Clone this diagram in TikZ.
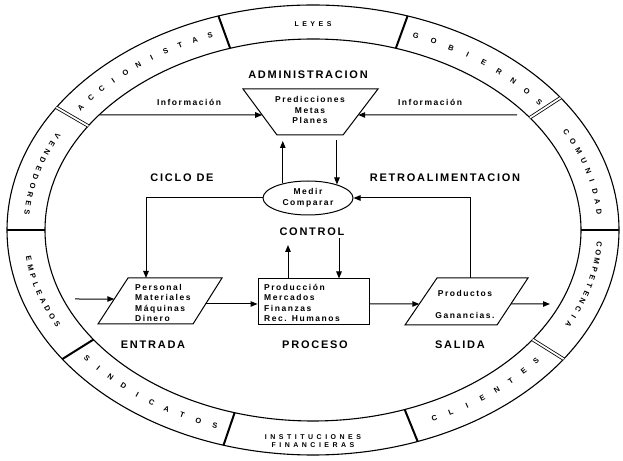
\documentclass[tikz,border=0pt]{standalone}
\usepackage{fontspec}
\setmainfont{Liberation Sans}
\newfontfamily\ttlfont[LetterSpace=16]{Liberation Sans}
\newfontfamily\txtfont[LetterSpace=18]{Liberation Sans}
\newfontfamily\ringfont[LetterSpace=50]{Liberation Sans}
\usetikzlibrary{arrows.meta,shapes.geometric,calc}

% letters of a word spread along the middle of the ring band
% #1 start angle, #2 end angle, #3 number of letters, #4 name prefix, #5 letters
\newcommand\ringword[5]{%
  \foreach \ch [count=\i from 0] in {#5} {%
    \pgfmathsetmacro\rwt{#1+\i*(#2-#1)/(#3-1)}%
    \pgfmathsetmacro\rwsg{sign(#2-#1)}%
    \pgfmathsetmacro\rwang{atan2(\rwsg*208*cos(\rwt),-\rwsg*287*sin(\rwt))}%
    \node[ringlet,rotate=\rwang] (#4\i) at ({313+287*cos(\rwt)},{230+208*sin(\rwt)}) {\ch};
  }}
% radial separator across the ring band at angle #1
\newcommand\ringcut[2]{%
  \draw[#2] ({313+268*cos(#1)},{230+191*sin(#1)}) -- ({313+306*cos(#1)},{230+225*sin(#1)});}

\begin{document}
\begin{tikzpicture}[x=1pt,y=1pt,
  ring/.style={line width=1.1pt},
  cut/.style={line width=2pt},
  dcut/.style={line width=0.8pt,double=white,double distance=1.8pt},
  ttl/.style={font=\ttlfont\bfseries\fontsize{11}{13}\selectfont,inner sep=0},
  small/.style={font=\txtfont\bfseries\fontsize{8.5}{10.5}\selectfont,inner sep=0},
  ringlet/.style={font=\bfseries\fontsize{7.5}{9}\selectfont,inner sep=0},
  ringtxt/.style={font=\ringfont\bfseries\fontsize{7}{8.5}\selectfont,inner sep=0,align=center},
  box/.style={line width=1pt},
  arr/.style={line width=1pt,-{Triangle[length=7pt,width=5.5pt]}}]
\useasboundingbox (0,0) rectangle (623,460);

% ---- outer ring of stakeholders ----
\draw[ring] (313,230) ellipse [x radius=306pt, y radius=225pt];
\draw[ring] (313,230) ellipse [x radius=268pt, y radius=191pt];
\ringcut{108}{cut}
\ringcut{72}{cut}
\ringcut{36}{dcut}
\ringcut{0}{cut}
\ringcut{-35}{dcut}
\ringcut{-70}{cut}
\ringcut{-107}{cut}
\ringcut{-145}{cut}
\ringcut{180}{cut}
\ringcut{147}{dcut}

\node[ringtxt] (leyes) at (313,436) {LEYES};
\node[ringtxt] (inst) at (313,19) {INSTITUCIONES\\FINANCIERAS};
\ringword{144}{111}{11}{acc}{A,C,C,I,O,N,I,S,T,A,S}
\ringword{69}{38}{9}{gob}{G,O,B,I,E,R,N,O,S}
\ringword{28}{5}{9}{com}{C,O,M,U,N,I,D,A,D}
\ringword{-4}{-27}{11}{cpt}{C,O,M,P,E,T,E,N,C,I,A}
\ringword{-65}{-39}{8}{cli}{C,L,I,E,N,T,E,S}
\ringword{-142}{-110}{10}{sin}{S,I,N,D,I,C,A,T,O,S}
\ringword{188}{207}{9}{emp}{E,M,P,L,E,A,D,O,S}
\ringword{153}{175}{10}{ven}{V,E,N,D,E,D,O,R,E,S}

% ---- administration ----
\node[ttl] (adm) at (308,385) {ADMINISTRACION};
\coordinate (tl) at (243,371);
\coordinate (tr) at (378,371);
\coordinate (br) at (343,325);
\coordinate (bl) at (277,325);
\draw[box] (tl) -- (tr) -- (br) -- (bl) -- cycle;
\node[small,align=center] (plan) at (310,350) {Predicciones\\Metas\\Planes};

\node[small] (infl) at (189,358) {Información};
\node[small] (infr) at (430,358) {Información};
\coordinate (infoL) at (100,345);
\coordinate (infoR) at (517,345);
\draw[arr] (infoL) -- ($(tl)!0.565!(bl)$);
\draw[arr] (infoR) -- ($(tr)!0.565!(br)$);

% ---- control loop ----
\node[draw,ellipse,box,minimum width=90pt,minimum height=34pt,inner sep=0,
      small,align=center] (med) at (308,262) {Medir\\Comparar};
\coordinate (upa) at (0,319);
\coordinate (dna) at (0,320);
\draw[arr] (med.150) -- (med.150 |- upa);
\draw[arr] (med.25 |- dna) -- (med.25);

\node[ttl] (ciclo) at (182,282) {CICLO DE};
\node[ttl] (retro) at (445,282) {RETROALIMENTACION};
\node[ttl] (ctrl) at (312,228) {CONTROL};

% ---- input / process / output ----
\coordinate (ptl) at (128,182);
\coordinate (ptr) at (222,182);
\coordinate (pbr) at (193,136);
\coordinate (pbl) at (98,136);
\draw[box] (ptl) -- (ptr) -- (pbr) -- (pbl) -- cycle;
\node[small,align=left,anchor=west] (perst) at (135,157) {Personal\\Materiales\\Máquinas\\Dinero};

\node[draw,box,minimum width=111pt,minimum height=46pt,inner sep=0] (proc) at (313.5,158) {};
\node[small,align=left,anchor=west] (proct) at (264,157) {Producción\\Mercados\\Finanzas\\Rec. Humanos};

\coordinate (stl) at (437,182);
\coordinate (str) at (528,182);
\coordinate (sbr) at (497,135);
\coordinate (sbl) at (405,135);
\draw[box] (stl) -- (str) -- (sbr) -- (sbl) -- cycle;
\node[small] (prod) at (465,167) {Productos};
\node[small] (gan) at (465,145) {Ganancias.};

\node[ttl] (ent) at (153,115) {ENTRADA};
\node[ttl] (pro) at (315,115) {PROCESO};
\node[ttl] (sal) at (460,115) {SALIDA};

% feedback lines
\coordinate (pfb) at (146,182);
\coordinate (sfb) at (470,182);
\draw[arr] (med.west) -| (pfb);
\draw[arr] (sfb) |- (med.east);

% control arrows between process and CONTROL
\coordinate (cup) at (288,215);
\coordinate (cdn) at (339,222);
\draw[arr] (proc.north -| cup) -- (cup);
\draw[arr] (cdn) -- (cdn |- proc.north);

% main flow
\coordinate (in0) at (75,161);
\coordinate (out0) at (550,156);
\coordinate (e1) at ($(pbr)!0.435!(ptr)$);
\draw[arr] (in0) -- ($(pbl)!0.543!(ptl)$);
\draw[arr] (e1) -- (e1 -| proc.west);
\draw[arr] (e1 -| proc.east) -- ($(sbl)!0.447!(stl)$);
\draw[arr] ($(sbr)!0.447!(str)$) -- (out0);
\end{tikzpicture}
\end{document}
